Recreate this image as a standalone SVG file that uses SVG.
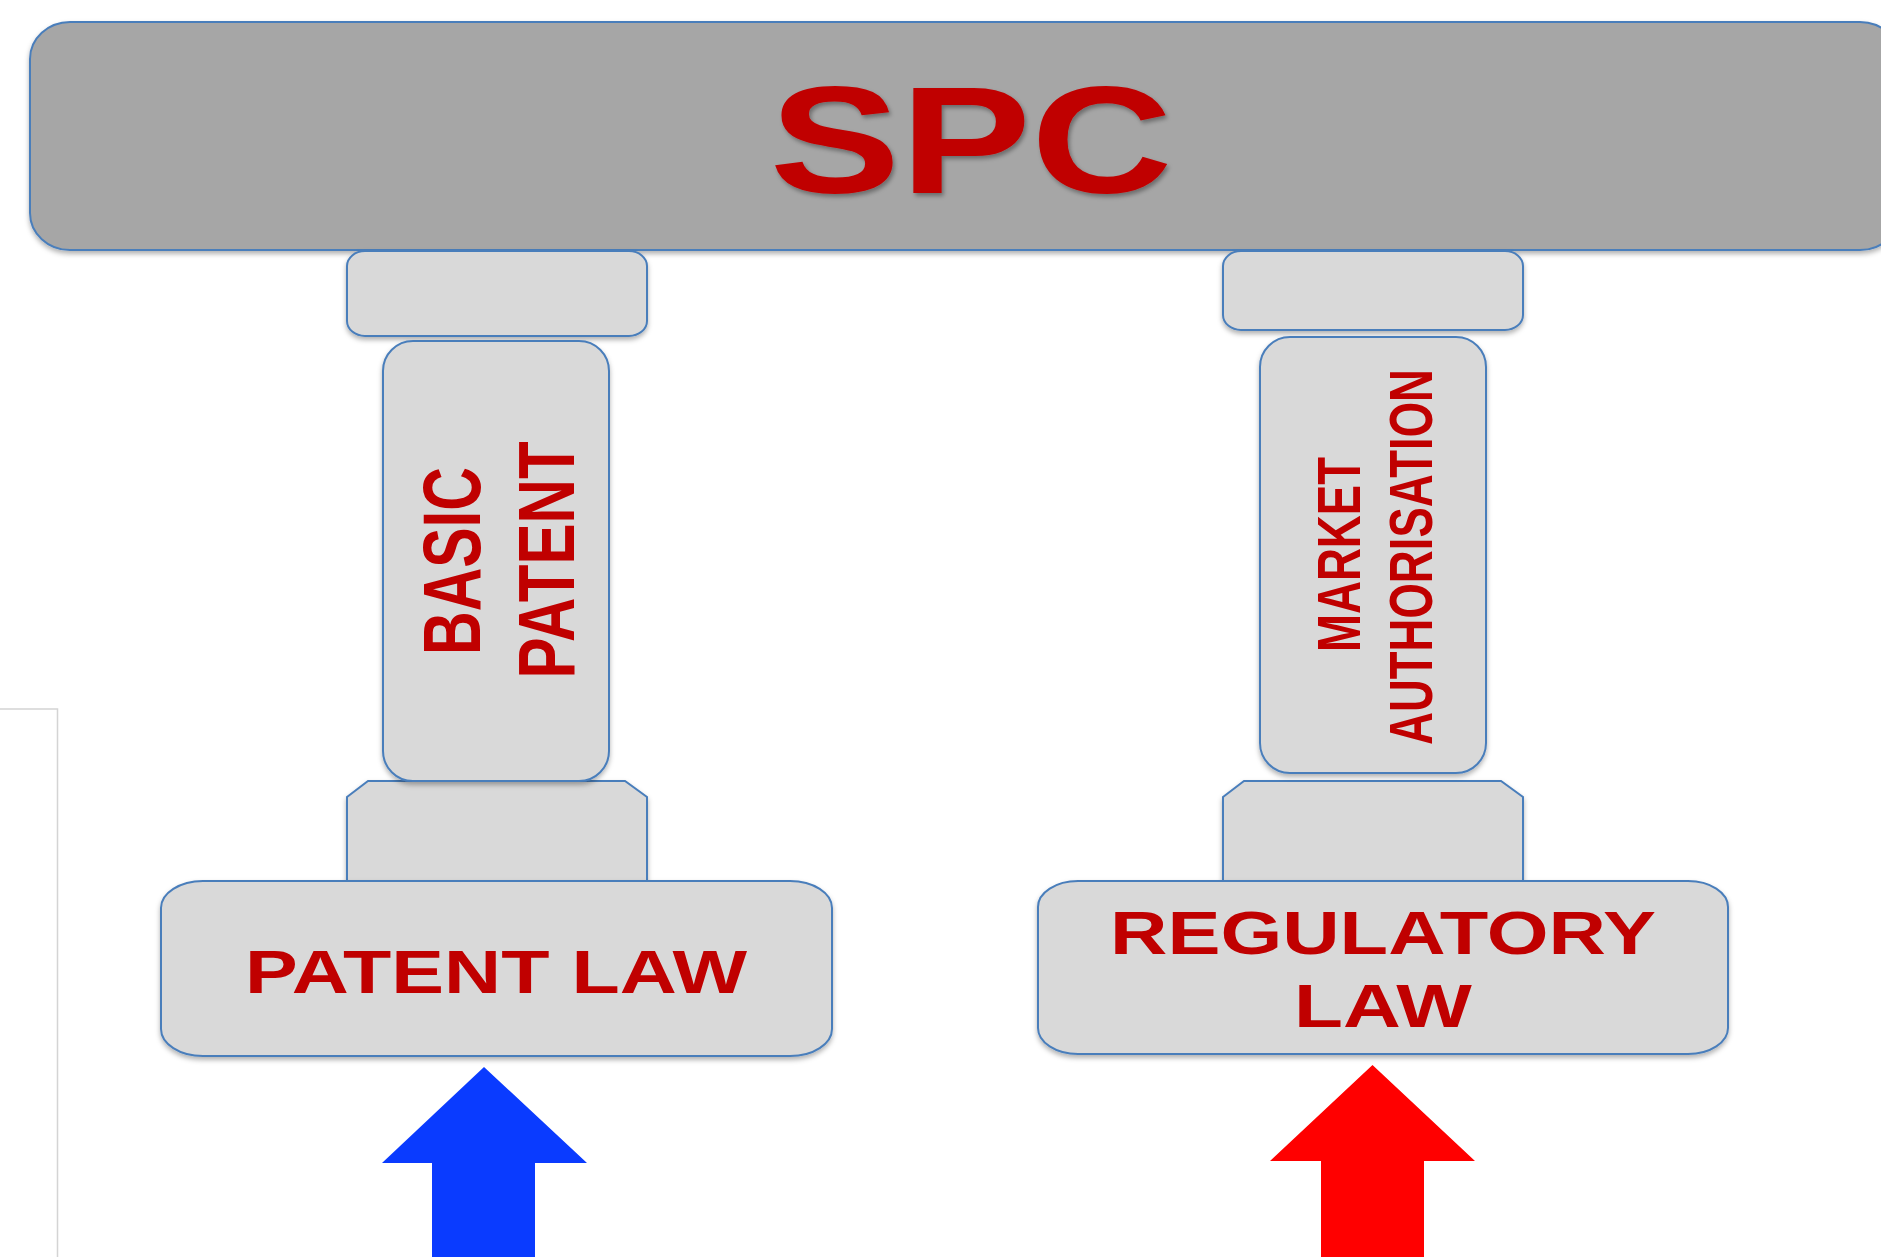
<svg xmlns="http://www.w3.org/2000/svg" width="1881" height="1257" viewBox="0 0 1881 1257">
<defs>
<filter id="sh" x="-10%" y="-10%" width="120%" height="130%">
<feDropShadow dx="0" dy="3" stdDeviation="2.5" flood-color="#000" flood-opacity="0.3"/>
</filter>
<filter id="tsh" x="-10%" y="-10%" width="120%" height="130%">
<feDropShadow dx="2" dy="3" stdDeviation="2" flood-color="#000" flood-opacity="0.35"/>
</filter>
</defs>
<style>
.box{fill:#d9d9d9;stroke:#4a7ebb;stroke-width:2;filter:url(#sh)}
.bar{fill:#a6a6a6;stroke:#4a7ebb;stroke-width:2;filter:url(#sh)}
.t{font-family:"Liberation Sans",Arial,sans-serif;font-weight:bold;fill:#c00000;text-anchor:middle}
</style>
<rect width="1881" height="1257" fill="#ffffff"/>
<path d="M0 709 H57.5 V1257" fill="none" stroke="#d4d4d4" stroke-width="1.5"/>

<g id="spc">
<rect class="bar" x="30" y="22" width="1870" height="228" rx="40" ry="37"/>
<text class="t" x="971" y="193" font-size="153" textLength="403" lengthAdjust="spacingAndGlyphs" filter="url(#tsh)">SPC</text>
</g>

<g id="left-cap-top">
<rect class="box" x="347" y="251" width="300" height="85" rx="18" ry="15"/>
</g>
<g id="left-base-cap">
<path class="box" d="M347 797 L368 781 H625 L647 797 V881 H347 Z"/>
</g>
<g id="basic-patent">
<rect class="box" x="383" y="341" width="226" height="440" rx="30" ry="30"/>
<text class="t" transform="translate(480,561) rotate(-90)" font-size="81" textLength="188" lengthAdjust="spacingAndGlyphs">BASIC</text>
<text class="t" transform="translate(574,560) rotate(-90)" font-size="80" textLength="237" lengthAdjust="spacingAndGlyphs">PATENT</text>
</g>
<g id="patent-law">
<rect class="box" x="161" y="881" width="671" height="175" rx="42" ry="27"/>
<text class="t" x="496" y="993" font-size="62" textLength="502" lengthAdjust="spacingAndGlyphs">PATENT LAW</text>
</g>

<g id="right-cap-top">
<rect class="box" x="1223" y="251" width="300" height="79" rx="18" ry="15"/>
</g>
<g id="right-base-cap">
<path class="box" d="M1223 797 L1244 781 H1501 L1523 797 V881 H1223 Z"/>
</g>
<g id="market-authorisation">
<rect class="box" x="1260" y="337" width="226" height="436" rx="30" ry="30"/>
<text class="t" transform="translate(1360,554.5) rotate(-90)" font-size="61" textLength="195" lengthAdjust="spacingAndGlyphs">MARKET</text>
<text class="t" transform="translate(1432,557) rotate(-90)" font-size="62" textLength="376" lengthAdjust="spacingAndGlyphs">AUTHORISATION</text>
</g>
<g id="regulatory-law">
<rect class="box" x="1038" y="881" width="690" height="173" rx="40" ry="26"/>
<text class="t" x="1383" y="954" font-size="62" textLength="546" lengthAdjust="spacingAndGlyphs">REGULATORY</text>
<text class="t" x="1383" y="1027" font-size="62" textLength="178" lengthAdjust="spacingAndGlyphs">LAW</text>
</g>

<g id="connectors">
<path d="M484 1067 L587 1163 H535 V1257 H432 V1163 H382 Z" fill="#0a3bff"/>
<path d="M1372.5 1065 L1475 1161 H1424 V1257 H1321 V1161 H1270 Z" fill="#ff0000"/>
</g>
</svg>
